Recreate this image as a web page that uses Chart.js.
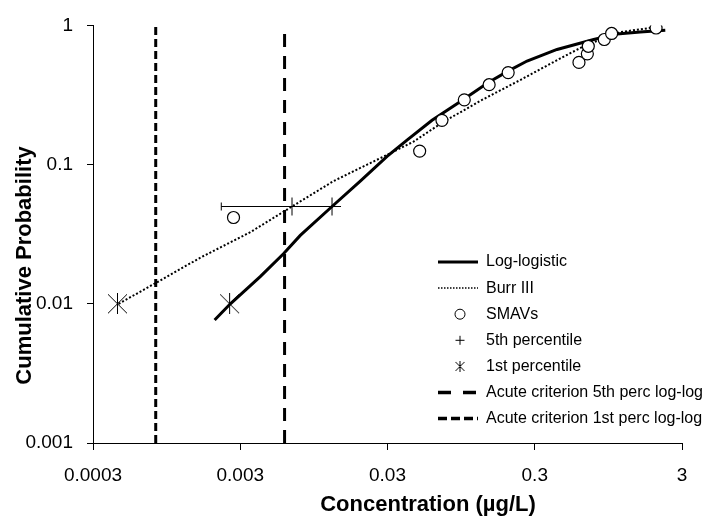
<!DOCTYPE html>
<html>
<head>
<meta charset="utf-8">
<script src="https://cdn.jsdelivr.net/npm/chart.js@4/dist/chart.umd.min.js"></script>
<style>
  body { margin: 0; background: #fff; }
  #grafico { display: block; }
</style>
</head>
<body>
<canvas id="grafico" width="710" height="516"></canvas>
<script>
// ticks
const xTickValues = [0.0003, 0.003, 0.03, 0.3, 3];
const xTickLabels = ['0.0003', '0.003', '0.03', '0.3', '3'];
const yTickValues = [0.001, 0.01, 0.1, 1];
const yTickLabels = ['0.001', '0.01', '0.1', '1'];

// SMAVs (concentração, probabilidade acumulada)
const smavConc = [0.0027, 0.0496, 0.0703, 0.0997, 0.147, 0.198, 0.599, 0.683, 0.693, 0.89, 0.998, 2.0];
const smavProb = [0.0417, 0.125, 0.208, 0.292, 0.375, 0.458, 0.542, 0.625, 0.708, 0.792, 0.875, 0.958];

// curva log-logistic
const logLogConc = [0.00201, 0.00257, 0.0041, 0.0059, 0.00767, 0.0126, 0.0196, 0.0298, 0.0407, 0.0602, 0.089, 0.146, 0.199, 0.266, 0.425, 0.754, 1.087, 1.56, 2.31];
const logLogProb = [0.00764, 0.0100, 0.01567, 0.0229, 0.031, 0.05, 0.0761, 0.1145, 0.150, 0.208, 0.2735, 0.390, 0.471, 0.555, 0.672, 0.792, 0.869, 0.898, 0.922];

// curva Burr III
const burrConc = [0.000448, 0.000795, 0.0016, 0.00351, 0.00674, 0.0129, 0.0196, 0.0298, 0.0451, 0.0707, 0.128, 0.239, 0.448, 0.641, 0.836, 1.143, 1.98];
const burrProb = [0.01, 0.01405, 0.0214, 0.0327, 0.05, 0.0761, 0.0946, 0.1175, 0.1463, 0.2005, 0.2873, 0.405, 0.580, 0.706, 0.792, 0.895, 0.971];

// percentis
const pct5Conc = [0.00674, 0.0126];
const pct5Prob = [0.05, 0.05];
const pct1Conc = [0.00044, 0.00254];
const pct1Prob = [0.01, 0.01];
const errorBarConc = [0.00223, 0.0126];
const errorBarProb = [0.05, 0.05];

// critérios agudos (linhas verticais)
const criterio5th = 0.006;
const criterio1st = 0.0008;
const yLimites = [0.001, 1];

const legendLabels = [
  'Log-logistic',
  'Burr III',
  'SMAVs',
  '5th percentile',
  '1st percentile',
  'Acute criterion 5th perc log-log',
  'Acute criterion 1st perc log-log'
];

const pares = (xs, ys) => xs.map((x, i) => ({ x: x, y: ys[i] }));

// asterisco (X + linha vertical)
function fazAsterisco(tam) {
  const c = document.createElement('canvas');
  c.width = tam; c.height = tam;
  const g = c.getContext('2d');
  g.strokeStyle = '#000';
  g.lineWidth = 1;
  g.beginPath();
  g.moveTo(1, 1); g.lineTo(tam - 1, tam - 1);
  g.moveTo(tam - 1, 1); g.lineTo(1, tam - 1);
  g.moveTo(tam / 2, 0); g.lineTo(tam / 2, tam);
  g.stroke();
  return c;
}
const asterisco = fazAsterisco(21);
const asteriscoPeq = fazAsterisco(11);

const extras = {
  id: 'extras',
  afterDraw(chart) {
    const ctx = chart.ctx;
    ctx.save();
    ctx.fillStyle = '#000';
    ctx.strokeStyle = '#000';

    // títulos dos eixos
    ctx.font = 'bold 22px "Liberation Sans", Arial, sans-serif';
    ctx.textAlign = 'center';
    ctx.textBaseline = 'alphabetic';
    ctx.fillText('Concentration (\u00b5g/L)', 428, 510.5);
    ctx.save();
    ctx.translate(30.5, 265.5);
    ctx.rotate(-Math.PI / 2);
    ctx.fillText('Cumulative Probability', 0, 0);
    ctx.restore();

    // legenda
    const x0 = 438, x1 = 478, xm = 460, xt = 486;
    ctx.font = '16px "Liberation Sans", Arial, sans-serif';
    ctx.textAlign = 'left';
    ctx.textBaseline = 'middle';
    legendLabels.forEach((lab, i) => {
      const y = 262 + i * 26.1;
      ctx.setLineDash([]);
      ctx.lineWidth = 1;
      if (i === 0) {
        ctx.lineWidth = 3;
        ctx.beginPath(); ctx.moveTo(x0, y); ctx.lineTo(x1, y); ctx.stroke();
      } else if (i === 1) {
        ctx.lineWidth = 1.5;
        ctx.setLineDash([1.5, 1.5]);
        ctx.beginPath(); ctx.moveTo(x0, y); ctx.lineTo(x1, y); ctx.stroke();
      } else if (i === 2) {
        ctx.beginPath(); ctx.arc(xm, y, 5, 0, Math.PI * 2);
        ctx.fillStyle = '#fff'; ctx.fill(); ctx.stroke(); ctx.fillStyle = '#000';
      } else if (i === 3) {
        ctx.beginPath();
        ctx.moveTo(xm - 4.5, y); ctx.lineTo(xm + 4.5, y);
        ctx.moveTo(xm, y - 4.5); ctx.lineTo(xm, y + 4.5);
        ctx.stroke();
      } else if (i === 4) {
        ctx.drawImage(asteriscoPeq, xm - 5.5, y - 5.5);
      } else if (i === 5) {
        ctx.lineWidth = 3.5;
        ctx.setLineDash([13, 12]);
        ctx.beginPath(); ctx.moveTo(x0, y); ctx.lineTo(x1, y); ctx.stroke();
      } else {
        ctx.lineWidth = 3.5;
        ctx.setLineDash([9, 4]);
        ctx.beginPath(); ctx.moveTo(x0, y); ctx.lineTo(x1, y); ctx.stroke();
      }
      ctx.setLineDash([]);
      ctx.fillText(lab, xt, y);
    });
    ctx.restore();
  }
};

const fonteTicks = { family: '"Liberation Sans", Arial, sans-serif', size: 19 };

const ctx = document.getElementById('grafico').getContext('2d');
const myChart = new Chart(ctx, {
  type: 'scatter',
  data: {
    datasets: [
      {
        label: 'SMAVs',
        data: pares(smavConc, smavProb),
        pointStyle: 'circle',
        pointRadius: 6,
        pointBorderWidth: 1.2,
        pointBackgroundColor: '#fff',
        pointBorderColor: '#000',
        order: 1
      },
      {
        label: '1st percentile',
        data: pares(pct1Conc, pct1Prob),
        pointStyle: asterisco,
        pointRadius: 10,
        order: 2
      },
      {
        label: '5th percentile',
        data: pares(pct5Conc, pct5Prob),
        pointStyle: 'cross',
        pointRadius: 9,
        pointBorderWidth: 1,
        pointBorderColor: '#000',
        order: 3
      },
      {
        label: 'erro',
        data: pares(errorBarConc, errorBarProb),
        showLine: true,
        borderColor: '#000',
        borderWidth: 1,
        pointStyle: 'line',
        rotation: 90,
        pointRadius: [4, 0],
        pointBorderWidth: 1,
        pointBorderColor: '#000',
        order: 4
      },
      {
        label: 'Log-logistic',
        data: pares(logLogConc, logLogProb),
        showLine: true,
        borderColor: '#000',
        borderWidth: 3,
        pointRadius: 0,
        order: 5
      },
      {
        label: 'Burr III',
        data: pares(burrConc, burrProb),
        showLine: true,
        borderColor: '#000',
        borderWidth: 2,
        borderDash: [2, 2],
        pointRadius: 0,
        order: 6
      },
      {
        label: 'Acute criterion 5th perc log-log',
        data: pares([criterio5th, criterio5th], yLimites),
        showLine: true,
        borderColor: '#000',
        borderWidth: 3,
        borderDash: [13, 9],
        pointRadius: 0,
        order: 7
      },
      {
        label: 'Acute criterion 1st perc log-log',
        data: pares([criterio1st, criterio1st], [yLimites[0], 0.993]),
        showLine: true,
        borderColor: '#000',
        borderWidth: 3,
        borderDash: [8, 4],
        pointRadius: 0,
        order: 8
      }
    ]
  },
  options: {
    responsive: false,
    animation: false,
    devicePixelRatio: 1,
    layout: { padding: { top: 21, right: 28, left: 0, bottom: 0 } },
    plugins: {
      legend: { display: false },
      tooltip: { enabled: false }
    },
    scales: {
      x: {
        type: 'logarithmic',
        min: 0.0003,
        max: 3,
        afterBuildTicks: s => { s.ticks = xTickValues.map(v => ({ value: v })); },
        afterFit: s => { s.height = 73; },
        grid: { drawOnChartArea: false, drawTicks: true, tickLength: 7, color: '#000' },
        border: { display: true, color: '#000', width: 1 },
        ticks: {
          autoSkip: false,
          maxRotation: 0,
          padding: 14,
          color: '#000',
          font: fonteTicks,
          callback: (v, i) => xTickLabels[i]
        }
      },
      y: {
        type: 'logarithmic',
        min: 0.001,
        max: 1,
        afterBuildTicks: s => { s.ticks = yTickValues.map(v => ({ value: v })); },
        afterFit: s => { s.width = 93; },
        grid: { drawOnChartArea: false, drawTicks: true, tickLength: 6, color: '#000' },
        border: { display: true, color: '#000', width: 1 },
        ticks: {
          autoSkip: false,
          padding: 14,
          color: '#000',
          font: fonteTicks,
          callback: (v, i) => yTickLabels[i]
        }
      }
    }
  },
  plugins: [extras]
});
</script>
</body>
</html>
